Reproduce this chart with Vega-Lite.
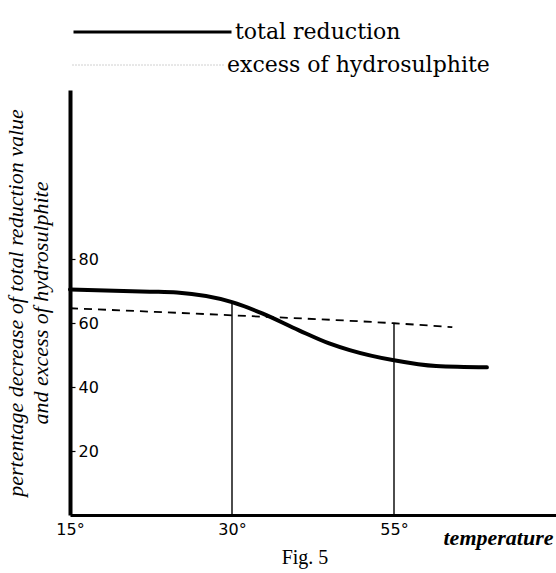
{
  "$schema": "https://vega.github.io/schema/vega-lite/v6.json",
  "width": 486,
  "height": 425,
  "autosize": "none",
  "padding": {"top": 90, "left": 70, "right": 0, "bottom": 58},
  "background": "white",
  "title": {
    "text": "Fig. 5",
    "orient": "bottom",
    "anchor": "middle",
    "font": "Liberation Serif",
    "fontSize": 20,
    "fontWeight": "normal",
    "color": "black",
    "offset": 0,
    "dx": -8
  },
  "config": {
    "view": {"stroke": null},
    "axis": {"grid": false},
    "legend": {"labelFont": "DejaVu Serif", "labelFontSize": 22, "labelColor": "black"}
  },
  "datasets": {
    "curves": [
      {"series": "total reduction", "temp": 15, "value": 70.6},
      {"series": "total reduction", "temp": 22.4, "value": 69.9},
      {"series": "total reduction", "temp": 24.9, "value": 69.6},
      {"series": "total reduction", "temp": 30, "value": 66.6},
      {"series": "total reduction", "temp": 32.8, "value": 63.1},
      {"series": "total reduction", "temp": 36.2, "value": 57.8},
      {"series": "total reduction", "temp": 39, "value": 53.7},
      {"series": "total reduction", "temp": 40.9, "value": 51.6},
      {"series": "total reduction", "temp": 45, "value": 48.4},
      {"series": "total reduction", "temp": 48.9, "value": 46.6},
      {"series": "total reduction", "temp": 53.6, "value": 46.2},
      {"series": "excess of hydrosulphite", "temp": 15, "value": 64.7},
      {"series": "excess of hydrosulphite", "temp": 30, "value": 62.5},
      {"series": "excess of hydrosulphite", "temp": 45, "value": 60.0},
      {"series": "excess of hydrosulphite", "temp": 50.4, "value": 58.8}
    ],
    "rules": [
      {"temp": 30, "bottom": 0, "top": 66.6},
      {"temp": 45, "bottom": 0, "top": 60.0}
    ]
  },
  "layer": [
    {
      "data": {"name": "rules"},
      "mark": {"type": "rule", "color": "black", "strokeWidth": 1.4},
      "encoding": {
        "x": {
          "field": "temp",
          "type": "quantitative",
          "scale": {"domain": [15, 60], "nice": false, "zero": false},
          "axis": {
            "values": [15, 30, 45],
            "labelExpr": "datum.value == 45 ? '55°' : datum.value + '°'",
            "ticks": false,
            "labelPadding": 6,
            "labelFont": "DejaVu Sans",
            "labelFontSize": 16,
            "labelColor": "black",
            "labelFlush": false,
            "domainColor": "black",
            "domainWidth": 3,
            "title": "temperature",
            "titleFont": "Liberation Serif",
            "titleFontStyle": "italic",
            "titleFontWeight": "bold",
            "titleFontSize": 22,
            "titleColor": "black",
            "titleAnchor": "end",
            "titleAlign": "right",
            "titleBaseline": "middle",
            "titleX": 483,
            "titleY": 22
          }
        },
        "y": {
          "field": "bottom",
          "type": "quantitative",
          "scale": {"domain": [0, 133], "nice": false},
          "axis": {
            "values": [20, 40, 60, 80],
            "tickSize": -5,
            "tickColor": "black",
            "tickWidth": 1.2,
            "labelPadding": -3,
            "labelAlign": "left",
            "labelBaseline": "middle",
            "labelFont": "DejaVu Sans",
            "labelFontSize": 16,
            "labelColor": "black",
            "domainColor": "black",
            "domainWidth": 4,
            "title": ["pertentage decrease of total reduction value", "and excess of hydrosulphite"],
            "titleFont": "Liberation Serif",
            "titleFontStyle": "italic",
            "titleFontWeight": "normal",
            "titleFontSize": 22,
            "titleColor": "black",
            "titleLineHeight": 25,
            "titlePadding": 17
          }
        },
        "y2": {"field": "top"}
      }
    },
    {
      "data": {"name": "curves"},
      "transform": [{"filter": "datum.series === 'total reduction'"}],
      "mark": {"type": "line", "interpolate": "monotone", "strokeCap": "round", "strokeWidth": 4},
      "encoding": {
        "x": {"field": "temp", "type": "quantitative"},
        "y": {"field": "value", "type": "quantitative"},
        "color": {
          "field": "series",
          "type": "nominal",
          "scale": {"domain": ["total reduction"], "range": ["black"]},
          "legend": {
            "orient": "none",
            "legendX": 2,
            "legendY": -70,
            "title": null,
            "padding": 0,
            "symbolType": "stroke",
            "symbolSize": 24964,
            "symbolStrokeWidth": 3,
            "symbolStrokeColor": "black",
            "clipHeight": 24,
            "labelOffset": 2,
            "labelFont": "DejaVu Serif",
            "labelFontSize": 22,
            "labelColor": "black",
            "labelLimit": 400
          }
        }
      }
    },
    {
      "data": {"name": "curves"},
      "transform": [{"filter": "datum.series === 'excess of hydrosulphite'"}],
      "mark": {"type": "line", "interpolate": "monotone", "color": "black", "strokeWidth": 1.8, "strokeDash": [8, 6]},
      "encoding": {
        "x": {"field": "temp", "type": "quantitative"},
        "y": {"field": "value", "type": "quantitative"},
        "opacity": {
          "field": "series",
          "type": "nominal",
          "scale": {"domain": ["excess of hydrosulphite"], "range": [1]},
          "legend": {
            "orient": "none",
            "legendX": 2,
            "legendY": -37,
            "title": null,
            "padding": 0,
            "symbolType": "stroke",
            "symbolSize": 23104,
            "symbolStrokeWidth": 1,
            "symbolStrokeColor": "#a0a0a0",
            "symbolDash": [1, 2],
            "clipHeight": 24,
            "labelOffset": 2,
            "labelFont": "DejaVu Serif",
            "labelFontSize": 22,
            "labelColor": "black",
            "labelLimit": 400
          }
        }
      }
    }
  ]
}
